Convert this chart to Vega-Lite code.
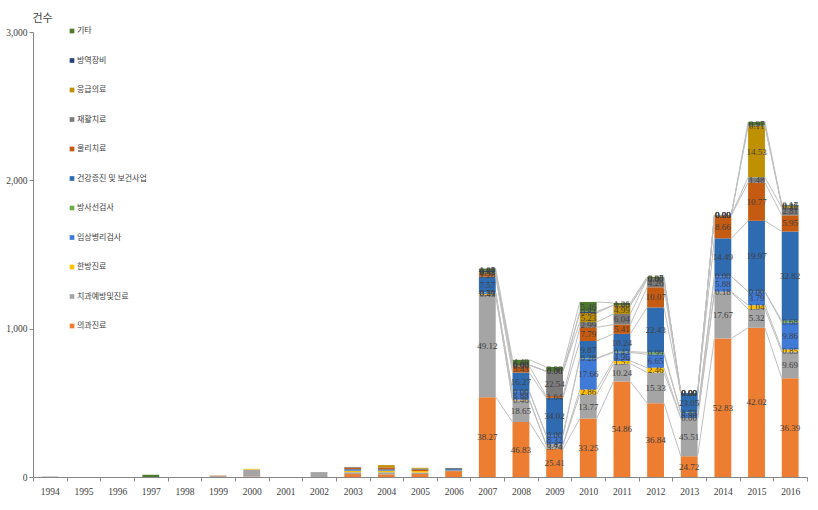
{
"$schema": "https://vega.github.io/schema/vega-lite/v6.json",
"width": 774, "height": 445,
"autosize": {"type": "none"},
"padding": {"left": 33, "top": 32, "right": 11, "bottom": 33},
"background": "white",
"config": {"view": {"stroke": null}},
"data": {"values": [
{"year":1994,"cat":"치과예방및진료","count":4},
{"year":1997,"cat":"기타","count":15},
{"year":1999,"cat":"치과예방및진료","count":6},{"year":1999,"cat":"물리치료","count":3},
{"year":2000,"cat":"의과진료","count":3},{"year":2000,"cat":"치과예방및진료","count":47},{"year":2000,"cat":"한방진료","count":5},
{"year":2002,"cat":"치과예방및진료","count":30},{"year":2002,"cat":"재활치료","count":3},
{"year":2003,"cat":"의과진료","count":20},{"year":2003,"cat":"치과예방및진료","count":12},{"year":2003,"cat":"한방진료","count":10},{"year":2003,"cat":"임상병리검사","count":6},{"year":2003,"cat":"건강증진 및 보건사업","count":5},{"year":2003,"cat":"물리치료","count":10},{"year":2003,"cat":"재활치료","count":5},
{"year":2004,"cat":"의과진료","count":18},{"year":2004,"cat":"치과예방및진료","count":14},{"year":2004,"cat":"한방진료","count":10},{"year":2004,"cat":"임상병리검사","count":5},{"year":2004,"cat":"건강증진 및 보건사업","count":5},{"year":2004,"cat":"물리치료","count":13},{"year":2004,"cat":"응급의료","count":15},
{"year":2005,"cat":"의과진료","count":20},{"year":2005,"cat":"치과예방및진료","count":10},{"year":2005,"cat":"한방진료","count":10},{"year":2005,"cat":"물리치료","count":8},{"year":2005,"cat":"재활치료","count":8},{"year":2005,"cat":"응급의료","count":6},
{"year":2006,"cat":"의과진료","count":40},{"year":2006,"cat":"치과예방및진료","count":5},{"year":2006,"cat":"건강증진 및 보건사업","count":8},{"year":2006,"cat":"재활치료","count":8},

{"year":2007,"cat":"의과진료","count":538,"pct":38.27},{"year":2007,"cat":"치과예방및진료","count":690,"pct":49.12},{"year":2007,"cat":"한방진료","count":6,"pct":0.43},{"year":2007,"cat":"임상병리검사","count":7,"pct":0.5},{"year":2007,"cat":"방사선검사","count":3,"pct":0.21},{"year":2007,"cat":"건강증진 및 보건사업","count":106,"pct":7.57},{"year":2007,"cat":"물리치료","count":18,"pct":1.28},{"year":2007,"cat":"재활치료","count":8,"pct":0.57},{"year":2007,"cat":"응급의료","count":6,"pct":0.43},{"year":2007,"cat":"방역장비","count":8,"pct":0.57},{"year":2007,"cat":"기타","count":15,"pct":1.05},

{"year":2008,"cat":"의과진료","count":370,"pct":46.83},{"year":2008,"cat":"치과예방및진료","count":147,"pct":18.65},{"year":2008,"cat":"한방진료","count":4,"pct":0.46},{"year":2008,"cat":"임상병리검사","count":54,"pct":6.88},{"year":2008,"cat":"방사선검사","count":0,"pct":0},{"year":2008,"cat":"건강증진 및 보건사업","count":129,"pct":16.27},{"year":2008,"cat":"물리치료","count":43,"pct":5.43},{"year":2008,"cat":"재활치료","count":8,"pct":0.99},{"year":2008,"cat":"응급의료","count":0,"pct":0},{"year":2008,"cat":"방역장비","count":0,"pct":0},{"year":2008,"cat":"기타","count":35,"pct":4.49},

{"year":2009,"cat":"의과진료","count":189,"pct":25.41},{"year":2009,"cat":"치과예방및진료","count":28,"pct":3.74},{"year":2009,"cat":"한방진료","count":3,"pct":0.43},{"year":2009,"cat":"임상병리검사","count":62,"pct":8.32},{"year":2009,"cat":"방사선검사","count":0,"pct":0},{"year":2009,"cat":"건강증진 및 보건사업","count":252,"pct":34.02},{"year":2009,"cat":"물리치료","count":12,"pct":1.64},{"year":2009,"cat":"재활치료","count":167,"pct":22.54},{"year":2009,"cat":"응급의료","count":0,"pct":0},{"year":2009,"cat":"방역장비","count":0,"pct":0},{"year":2009,"cat":"기타","count":29,"pct":3.9},

{"year":2010,"cat":"의과진료","count":394,"pct":33.25},{"year":2010,"cat":"치과예방및진료","count":162,"pct":13.77},{"year":2010,"cat":"한방진료","count":34,"pct":2.86},{"year":2010,"cat":"임상병리검사","count":208,"pct":17.66},{"year":2010,"cat":"방사선검사","count":3,"pct":0.28},{"year":2010,"cat":"건강증진 및 보건사업","count":116,"pct":9.87},{"year":2010,"cat":"물리치료","count":92,"pct":7.79},{"year":2010,"cat":"재활치료","count":35,"pct":2.99},{"year":2010,"cat":"응급의료","count":62,"pct":5.23},{"year":2010,"cat":"방역장비","count":10,"pct":0.84},{"year":2010,"cat":"기타","count":64,"pct":5.46},

{"year":2011,"cat":"의과진료","count":644,"pct":54.86},{"year":2011,"cat":"치과예방및진료","count":120,"pct":10.24},{"year":2011,"cat":"한방진료","count":18,"pct":1.57},{"year":2011,"cat":"임상병리검사","count":58,"pct":4.96},{"year":2011,"cat":"방사선검사","count":5,"pct":0.43},{"year":2011,"cat":"건강증진 및 보건사업","count":120,"pct":10.24},{"year":2011,"cat":"물리치료","count":63,"pct":5.41},{"year":2011,"cat":"재활치료","count":71,"pct":6.04},{"year":2011,"cat":"응급의료","count":59,"pct":4.99},{"year":2011,"cat":"방역장비","count":0,"pct":0},{"year":2011,"cat":"기타","count":15,"pct":1.26},

{"year":2012,"cat":"의과진료","count":497,"pct":36.84},{"year":2012,"cat":"치과예방및진료","count":207,"pct":15.33},{"year":2012,"cat":"한방진료","count":33,"pct":2.46},{"year":2012,"cat":"임상병리검사","count":90,"pct":6.65},{"year":2012,"cat":"방사선검사","count":13,"pct":0.99},{"year":2012,"cat":"건강증진 및 보건사업","count":303,"pct":22.43},{"year":2012,"cat":"물리치료","count":136,"pct":10.07},{"year":2012,"cat":"재활치료","count":57,"pct":4.26},{"year":2012,"cat":"응급의료","count":0,"pct":0},{"year":2012,"cat":"방역장비","count":0,"pct":0},{"year":2012,"cat":"기타","count":13,"pct":0.97},

{"year":2013,"cat":"의과진료","count":140,"pct":24.72},{"year":2013,"cat":"치과예방및진료","count":258,"pct":45.51},{"year":2013,"cat":"한방진료","count":0,"pct":0},{"year":2013,"cat":"임상병리검사","count":34,"pct":5.99},{"year":2013,"cat":"방사선검사","count":4,"pct":0.73},{"year":2013,"cat":"건강증진 및 보건사업","count":130,"pct":23.05},{"year":2013,"cat":"물리치료","count":0,"pct":0},{"year":2013,"cat":"재활치료","count":0,"pct":0},{"year":2013,"cat":"응급의료","count":0,"pct":0},{"year":2013,"cat":"방역장비","count":0,"pct":0},{"year":2013,"cat":"기타","count":0,"pct":0},

{"year":2014,"cat":"의과진료","count":934,"pct":52.83},{"year":2014,"cat":"치과예방및진료","count":312,"pct":17.67},{"year":2014,"cat":"한방진료","count":3,"pct":0.18},{"year":2014,"cat":"임상병리검사","count":104,"pct":5.88},{"year":2014,"cat":"방사선검사","count":0,"pct":0},{"year":2014,"cat":"건강증진 및 보건사업","count":256,"pct":14.49},{"year":2014,"cat":"물리치료","count":153,"pct":8.66},{"year":2014,"cat":"재활치료","count":5,"pct":0.29},{"year":2014,"cat":"응급의료","count":0,"pct":0},{"year":2014,"cat":"방역장비","count":0,"pct":0},{"year":2014,"cat":"기타","count":0,"pct":0},

{"year":2015,"cat":"의과진료","count":1006,"pct":42.02},{"year":2015,"cat":"치과예방및진료","count":127,"pct":5.32},{"year":2015,"cat":"한방진료","count":25,"pct":1.04},{"year":2015,"cat":"임상병리검사","count":91,"pct":3.79},{"year":2015,"cat":"방사선검사","count":0,"pct":0},{"year":2015,"cat":"건강증진 및 보건사업","count":478,"pct":19.97},{"year":2015,"cat":"물리치료","count":258,"pct":10.77},{"year":2015,"cat":"재활치료","count":35,"pct":1.48},{"year":2015,"cat":"응급의료","count":348,"pct":14.53},{"year":2015,"cat":"방역장비","count":3,"pct":0.11},{"year":2015,"cat":"기타","count":23,"pct":0.97},

{"year":2016,"cat":"의과진료","count":666,"pct":36.39},{"year":2016,"cat":"치과예방및진료","count":178,"pct":9.69},{"year":2016,"cat":"한방진료","count":16,"pct":0.85},{"year":2016,"cat":"임상병리검사","count":181,"pct":9.86},{"year":2016,"cat":"방사선검사","count":12,"pct":0.68},{"year":2016,"cat":"건강증진 및 보건사업","count":602,"pct":32.82},{"year":2016,"cat":"물리치료","count":109,"pct":5.95},{"year":2016,"cat":"재활치료","count":52,"pct":2.81},{"year":2016,"cat":"응급의료","count":10,"pct":0.52},{"year":2016,"cat":"방역장비","count":5,"pct":0.26},{"year":2016,"cat":"기타","count":3,"pct":0.17}
]},
"transform": [
  {"calculate": "indexof(['의과진료','치과예방및진료','한방진료','임상병리검사','방사선검사','건강증진 및 보건사업','물리치료','재활치료','응급의료','방역장비','기타'], datum.cat)", "as": "rank"},
  {"stack": "count", "groupby": ["year"], "sort": [{"field": "rank", "order": "ascending"}], "as": ["y0", "y1"]}
],
"encoding": {
  "x": {"field": "year", "type": "ordinal",
    "scale": {"domain": [1994,1995,1996,1997,1998,1999,2000,2001,2002,2003,2004,2005,2006,2007,2008,2009,2010,2011,2012,2013,2014,2015,2016], "paddingInner": 0, "paddingOuter": 0},
    "axis": {"title": null, "labelAngle": 0, "tickBand": "extent", "domainColor": "#868686", "tickColor": "#868686", "tickSize": 4, "labelFontSize": 9.5, "labelColor": "#404040", "labelPadding": 5, "labelFont": "Liberation Sans Narrow"}}
},
"layer": [
  {
    "mark": {"type": "bar", "width": {"band": 0.5}},
    "encoding": {
      "y": {"field": "y1", "type": "quantitative", "scale": {"domain": [0, 3000], "nice": false},
        "axis": {"values": [0, 1000, 2000, 3000], "format": ",.0f", "grid": false, "title": "건수", "titleAngle": 0, "titleX": -1, "titleY": -11, "titleAlign": "left", "titleBaseline": "alphabetic", "titleFontWeight": "normal", "titleFontSize": 11, "titleColor": "#404040", "titleFont": "Noto Sans CJK KR", "labelFontSize": 9.5, "labelColor": "#404040", "labelFont": "Liberation Sans Narrow", "tickSize": 4, "domainColor": "#868686", "tickColor": "#868686", "labelPadding": 2}},
      "y2": {"field": "y0"},
      "color": {"field": "cat", "type": "nominal",
        "scale": {"domain": ["기타","방역장비","응급의료","재활치료","물리치료","건강증진 및 보건사업","방사선검사","임상병리검사","한방진료","치과예방및진료","의과진료"],
                  "range": ["#4E7A2E","#264478","#BF9000","#7B7B7B","#C55A11","#2E6BB0","#70AD47","#3F7AD6","#FFC000","#A5A5A5","#ED7D31"]},
        "legend": {"orient": "none", "legendX": 35, "legendY": -5, "title": null, "symbolType": "square", "symbolSize": 22, "symbolStrokeWidth": 0, "labelFontSize": 8, "labelFont": "Noto Sans CJK KR", "labelColor": "#404040", "rowPadding": 21.5, "labelOffset": 1}}
    }
  },
  {
    "transform": [
      {"filter": "datum.year >= 2007"},
      {"window": [{"op": "lead", "field": "y1", "as": "ny1"}, {"op": "lead", "field": "year", "as": "nyear"}], "groupby": ["cat"], "sort": [{"field": "year", "order": "ascending"}]},
      {"filter": "isValid(datum.nyear)"}
    ],
    "mark": {"type": "rule", "color": "#BFBFBF", "strokeWidth": 1},
    "encoding": {
      "x": {"field": "year", "type": "ordinal", "bandPosition": 0.75},
      "x2": {"field": "nyear", "bandPosition": 0.25},
      "y": {"field": "y1", "type": "quantitative"},
      "y2": {"field": "ny1"}
    }
  },
  {
    "transform": [
      {"filter": "isValid(datum.pct)"},
      {"calculate": "(datum.y0 + datum.y1) / 2", "as": "mid"}
    ],
    "mark": {"type": "text", "fontSize": 9, "color": "#404040", "font": "Liberation Sans Narrow"},
    "encoding": {
      "y": {"field": "mid", "type": "quantitative"},
      "text": {"field": "pct", "type": "quantitative", "format": ".2f"}
    }
  }
]
}
